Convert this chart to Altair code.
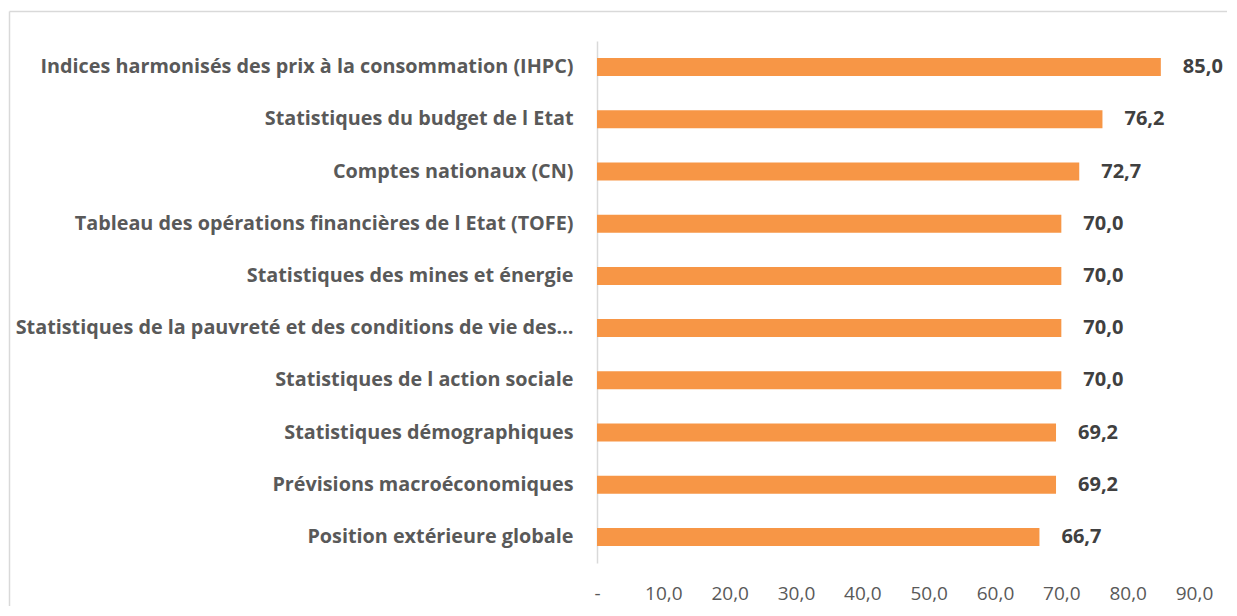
import altair as alt
import pandas as pd

categories = [
    "Indices harmonisés des prix à la consommation (IHPC)",
    "Statistiques du budget de l Etat",
    "Comptes nationaux (CN)",
    "Tableau des opérations financières de l Etat (TOFE)",
    "Statistiques des mines et énergie",
    "Statistiques de la pauvreté et des conditions de vie des…",
    "Statistiques de l action sociale",
    "Statistiques démographiques",
    "Prévisions macroéconomiques",
    "Position extérieure globale",
]
values = [85.0, 76.2, 72.7, 70.0, 70.0, 70.0, 70.0, 69.2, 69.2, 66.7]
tick_values = [0, 10, 20, 30, 40, 50, 60, 70, 80, 90]

df = pd.DataFrame({"cat": categories, "val": values})

FONT = "Open Sans"
W, H = 597, 522

y_enc = alt.Y(
    "cat:N",
    sort=categories,
    title=None,
    scale=alt.Scale(paddingInner=0.655, paddingOuter=0.3275),
    axis=alt.Axis(
        ticks=False,
        domain=True,
        domainColor="#d9d9d9",
        domainWidth=1.5,
        labelFont=FONT,
        labelFontWeight="bold",
        labelFontSize=19.8,
        labelColor="#595959",
        labelPadding=24,
        labelLimit=700,
        grid=False,
    ),
)
x_enc = alt.X(
    "val:Q",
    title=None,
    scale=alt.Scale(domain=[0, 90], nice=False),
    axis=alt.Axis(
        values=tick_values,
        domain=False,
        ticks=False,
        grid=False,
        labelFlush=False,
        labelFont=FONT,
        labelFontSize=19,
        labelColor="#595959",
        labelPadding=21,
        labelExpr="datum.value == 0 ? '-' : replace(format(datum.value, '.1f'), '.', ',')",
    ),
)

bars = alt.Chart(df).mark_bar(color="#F79646").encode(x=x_enc, y=y_enc)

labels = alt.Chart(df).transform_calculate(
    lab="replace(format(datum.val, '.1f'), '.', ',')"
).mark_text(
    align="left", baseline="middle", dx=22, font=FONT, fontWeight="bold",
    fontSize=20, color="#404040"
).encode(x="val:Q", y=alt.Y("cat:N", sort=categories), text="lab:N")

border_top = alt.Chart(df.head(1)).mark_rule(color="#d9d9d9", strokeWidth=1.5).encode(
    x=alt.value(-587.5), x2=alt.value(W + 60), y=alt.value(-29.5)
)
border_left = alt.Chart(df.head(1)).mark_rule(color="#d9d9d9", strokeWidth=1.5).encode(
    x=alt.value(-587.5), y=alt.value(-29.5), y2=alt.value(H + 60)
)

chart = alt.layer(border_top, border_left, bars, labels).properties(
    width=W,
    height=H,
    background="white",
    autosize=alt.AutoSizeParams(type="none"),
    padding={"left": 589, "top": 33, "right": 33, "bottom": 43},
).configure_view(strokeWidth=0, stroke=None)

chart.save("out.html", embed_options={"renderer": "svg", "actions": False})
